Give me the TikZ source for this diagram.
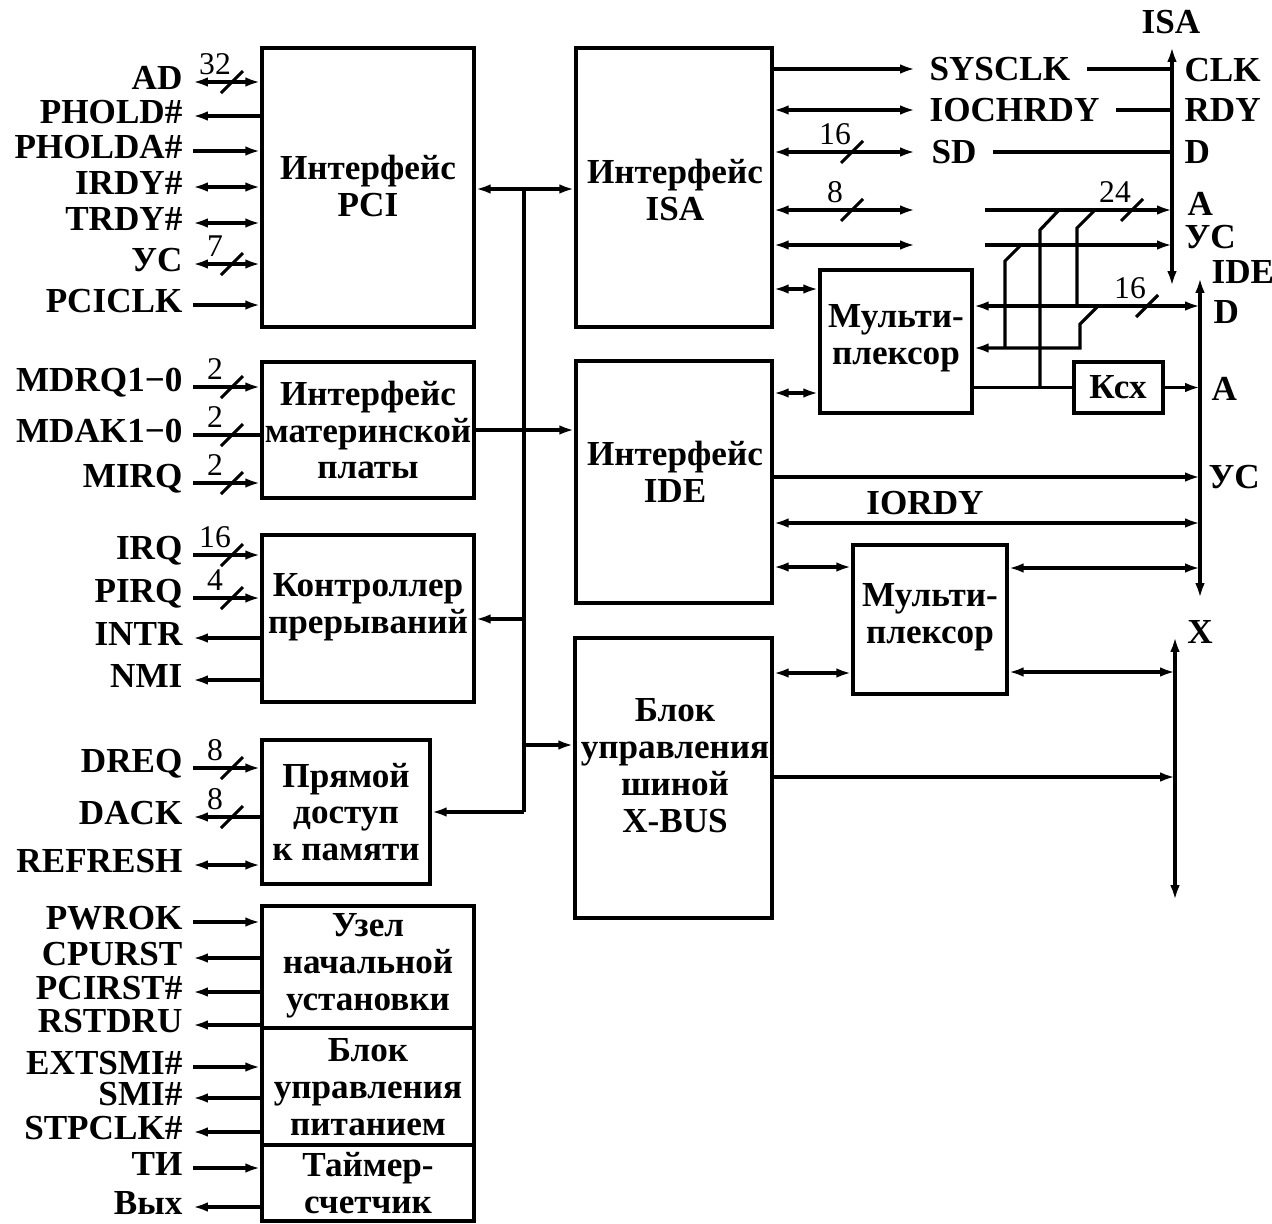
\documentclass[tikz,border=0pt]{standalone}
\usepackage{fontspec}
\setmainfont{Liberation Serif}
\usetikzlibrary{arrows.meta,fit,calc}
\newcommand\sgl[5]{%
  \coordinate (#1) at (193,-#2);
  \node[lbl,anchor=east] (#1L) at (184,-#2+4) {#3};
  \draw[#4] (#1) -- (#1 -| #5.west);
}
\newcommand\bsl[4]{%
  \draw (#2-11,-#3-11) -- (#2+11,-#3+11);
  \node[num] (#1) at (#2-17,-#3+18) {#4};
}
\begin{document}
\begin{tikzpicture}[x=0.02cm,y=0.02cm,line width=1.8pt,
  >={Latex[length=8.5pt,width=5.5pt]},
  box/.style={draw,line width=2pt,inner sep=0pt},
  txt/.style={font=\fontsize{20}{21}\selectfont\bfseries,align=center,inner sep=0pt},
  lbl/.style={font=\fontsize{20}{21}\selectfont\bfseries,inner sep=0pt},
  num/.style={font=\fontsize{18}{18}\selectfont,inner sep=0pt},
]
\useasboundingbox (0,0) rectangle (1272,-1224);

% ---------- boxes ----------
\node[box,fit={(262,-48)(474,-327)}] (pci) {};
\node[box,fit={(262,-362)(474,-498)}] (mb) {};
\node[box,fit={(262,-535)(474,-702)}] (irq) {};
\node[box,fit={(262,-740)(430,-884)}] (dma) {};
\node[box,fit={(262,-906)(474,-1028)}] (rst) {};
\node[box,fit={(262,-1028)(474,-1145)}] (pwr) {};
\node[box,fit={(262,-1145)(474,-1221)}] (tmr) {};
\node[box,fit={(576,-48)(772,-327)}] (isa) {};
\node[box,fit={(576,-361)(772,-603)}] (ide) {};
\node[box,fit={(575,-638)(772,-918)}] (xb) {};
\node[box,fit={(820,-270)(972,-413)}] (mx1) {};
\node[box,fit={(1074,-362)(1163,-413)}] (ksx) {};
\node[box,fit={(853,-545)(1007,-694)}] (mx2) {};

% ---------- box texts ----------
\node[txt] (pciT) at (368,-186) {Интерфейс\\PCI};
\node[txt] (isaT) at (675,-190) {Интерфейс\\ISA};
\node[txt] (mbT) at (368,-430) {Интерфейс\\материнской\\платы};
\node[txt] (irqT) at (368,-607) {Контроллер\\прерываний};
\node[txt] (dmaT) at (346,-812) {Прямой\\доступ\\к памяти};
\node[txt] (rstT) at (368,-966) {Узел\\начальной\\установки};
\node[txt] (pwrT) at (368,-1087) {Блок\\управления\\питанием};
\node[txt] (tmrT) at (368,-1183) {Таймер-\\счетчик};
\node[txt] (ideTx) at (675,-472) {Интерфейс\\IDE};
\node[txt] (xbT) at (675,-766) {Блок\\управления\\шиной\\X-BUS};
\node[txt] (mx1T) at (896,-338) {Мульти-\\плексор};
\node[txt] (mx2T) at (930,-617) {Мульти-\\плексор};
\node[txt] (ksxT) at (1118,-387) {Ксх};

% ---------- left signals ----------
\sgl{ad}{82}{AD}{<->}{pci}
\bsl{n32}{232}{82}{32}
\sgl{phold}{116}{PHOLD\#}{<-}{pci}
\sgl{pholda}{151}{PHOLDA\#}{->}{pci}
\sgl{irdy}{187}{IRDY\#}{<->}{pci}
\sgl{trdy}{223}{TRDY\#}{<->}{pci}
\sgl{ucp}{264}{УС}{<->}{pci}
\bsl{n7}{232}{264}{7}
\sgl{pciclk}{305}{PCICLK}{->}{pci}

\sgl{mdrq}{387}{MDRQ1−0}{->}{mb}
\bsl{n2a}{232}{387}{2}
\sgl{mdak}{435}{MDAK1−0}{-}{mb}
\bsl{n2b}{232}{435}{2}
\sgl{mirq}{483}{MIRQ}{->}{mb}
\bsl{n2c}{232}{483}{2}

\sgl{irqs}{555}{IRQ}{->}{irq}
\bsl{n16a}{232}{555}{16}
\sgl{pirq}{598}{PIRQ}{->}{irq}
\bsl{n4}{232}{598}{4}
\sgl{intr}{638}{INTR}{<-}{irq}
\sgl{nmi}{680}{NMI}{<-}{irq}

\sgl{dreq}{768}{DREQ}{->}{dma}
\bsl{n8a}{232}{768}{8}
\sgl{dack}{817}{DACK}{<-}{dma}
\bsl{n8b}{232}{817}{8}
\sgl{refresh}{865}{REFRESH}{<->}{dma}

\sgl{pwrok}{922}{PWROK}{->}{rst}
\sgl{cpurst}{958}{CPURST}{<-}{rst}
\sgl{pcirst}{992}{PCIRST\#}{<-}{rst}
\sgl{rstdru}{1025}{RSTDRU}{<-}{rst}
\sgl{extsmi}{1067}{EXTSMI\#}{->}{pwr}
\sgl{smi}{1098}{SMI\#}{<-}{pwr}
\sgl{stpclk}{1132}{STPCLK\#}{<-}{pwr}
\sgl{ti}{1168}{ТИ}{->}{tmr}
\sgl{vyh}{1207}{Вых}{<-}{tmr}

% ---------- central bus ----------
\coordinate (j1) at (524,-189);
\coordinate (jIrq) at (524,-619);
\coordinate (jXb) at (524,-745);
\coordinate (jDma) at (524,-812);
\draw[<->] (pci.east |- j1) -- (isa.west |- j1);
\draw (j1) -- (jDma);
\draw[->] (jIrq) -- (jIrq -| irq.east);
\draw[->] (jXb) -- (jXb -| xb.west);
\draw[->] (jDma) -- (jDma -| dma.east);
\draw[->] (mb.east |- 0,-430) -- (ide.west |- 0,-430);

% ---------- vertical buses ----------
\coordinate (isaBT) at (1172,-47);
\coordinate (isaBB) at (1172,-286);
\coordinate (ideBT) at (1200,-278);
\coordinate (ideBB) at (1200,-598);
\coordinate (xBT) at (1175,-637);
\coordinate (xBB) at (1175,-900);
\draw[<->] (isaBB) -- (isaBT);
\draw[<->] (ideBB) -- (ideBT);
\draw[<->] (xBB) -- (xBT);
\node[lbl] (isaL) at (1171,-22) {ISA};
\node[lbl] (xL) at (1200,-632) {X};

% ---------- ISA side ----------
\node[lbl,anchor=west] (sysclk) at (928,-69) {SYSCLK};
\node[lbl,anchor=west] (iochrdy) at (928,-110) {IOCHRDY};
\node[lbl,anchor=west] (sd) at (930,-152) {SD};
\draw[->] (sysclk.west -| isa.east) -- ([xshift=-0.26cm]sysclk.west);
\draw[<->] (iochrdy.west -| isa.east) -- ([xshift=-0.26cm]iochrdy.west);
\draw[<->] (sd.west -| isa.east) -- ([xshift=-0.3cm]sd.west);
\bsl{n16b}{852}{152}{16}
\draw ([xshift=0.3cm]sysclk.east) -- (sysclk.east -| isaBT);
\draw ([xshift=0.3cm]iochrdy.east) -- (iochrdy.east -| isaBT);
\draw ([xshift=0.3cm]sd.east) -- (sd.east -| isaBT);
\coordinate (a1) at (915,-210);
\coordinate (a2) at (985,-210);
\coordinate (u1) at (915,-245);
\coordinate (u2) at (985,-245);
\draw[<->] (a1 -| isa.east) -- (a1);
\bsl{n8c}{852}{210}{8}
\draw[<->] (u1 -| isa.east) -- (u1);
\draw[->] (a2) -- (a2 -| isaBT);
\bsl{n24}{1132}{210}{24}
\draw[->] (u2) -- (u2 -| isaBT);
\node[lbl,anchor=west] (clkL) at (1183,-70) {CLK};
\node[lbl,anchor=west] (rdyL) at (1183,-110) {RDY};
\node[lbl,anchor=west] (dL) at (1183,-152) {D};
\node[lbl,anchor=west] (aL) at (1186,-204) {A};
\node[lbl,anchor=west] (ucL) at (1183,-237) {УС};

% ---------- multiplexer 1 ----------
\draw[<->] (isa.east |- 0,-289) -- (mx1.west |- 0,-289);
\draw[<->] (ide.east |- 0,-393) -- (mx1.west |- 0,-393);
\draw[<->] (mx1.east |- 0,-306) -- (ideBT |- 0,-306);
\bsl{n16c}{1147}{306}{16}
\draw[->] (1098,-306) -- (1080,-324) -- (1080,-348) -- (mx1.east |- 0,-348);
\draw (1005,-348) -- (1005,-261) -- (1021,-245);
\draw (1040,-387) -- (1040,-230) -- (1059,-210);
\draw (1077,-306) -- (1077,-228) -- (1095,-210);
\draw (mx1.east |- ksx.west) -- (ksx.west);
\draw[->] (ksx.east) -- (ksx.east -| ideBT);
\node[lbl,anchor=west] (ideL) at (1210,-272) {IDE};
\node[lbl,anchor=west] (dL2) at (1212,-312) {D};
\node[lbl,anchor=west] (aL2) at (1210,-389) {A};
\node[lbl,anchor=west] (ucL2) at (1207,-477) {УС};

% ---------- IDE side ----------
\draw[->] (ide.east |- 0,-477) -- (ideBT |- 0,-477);
\draw[<->] (ide.east |- 0,-523) -- (ideBT |- 0,-523);
\node[lbl] (iordy) at (925,-503) {IORDY};
\draw[<->] (ide.east |- 0,-567) -- (mx2.west |- 0,-567);
\draw[<->] (mx2.east |- 0,-568) -- (ideBT |- 0,-568);
\draw[<->] (xb.east |- 0,-673) -- (mx2.west |- 0,-673);
\draw[<->] (mx2.east |- 0,-672) -- (xBT |- 0,-672);
\draw[->] (xb.east |- 0,-777) -- (xBT |- 0,-777);
\end{tikzpicture}
\end{document}
